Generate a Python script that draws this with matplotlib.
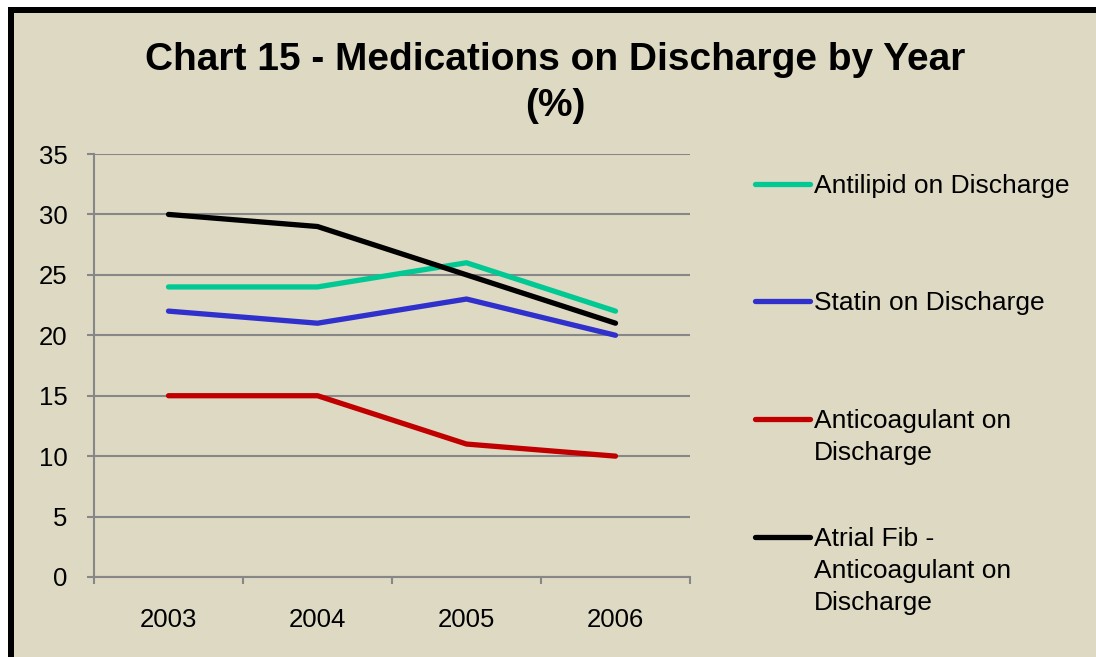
import matplotlib
matplotlib.use("Agg")
import matplotlib.pyplot as plt
from matplotlib.patches import Rectangle
from matplotlib.lines import Line2D

plt.rcParams['font.family'] = ['Liberation Sans', 'DejaVu Sans']

years = ["2003", "2004", "2005", "2006"]
series_names = ["Antilipid on Discharge", "Statin on Discharge",
                "Anticoagulant on\nDischarge", "Atrial Fib -\nAnticoagulant on\nDischarge"]
antilipid = [24, 24, 26, 22]
statin = [22, 21, 23, 20]
anticoagulant = [15, 15, 11, 10]
atrial_fib = [30, 29, 25, 21]
colors = ["#00C994", "#3030CC", "#C00000", "#000000"]
yticks = [0, 5, 10, 15, 20, 25, 30, 35]

W, H = 1096, 657
BG = "#DDD9C3"
GRID = "#878787"

fig = plt.figure(figsize=(W / 100, H / 100), dpi=100, facecolor="white")

# frame: black border on top/left, beige fill
fig.add_artist(Rectangle((8 / W, -0.1), 1.2, 1.1 - 7 / H, transform=fig.transFigure,
                         facecolor="black", edgecolor="none", zorder=0))
fig.add_artist(Rectangle((14 / W, -0.1), 1.2, 1.1 - 13 / H, transform=fig.transFigure,
                         facecolor=BG, edgecolor="none", zorder=0))

ax = fig.add_axes([94 / W, 1 - 577 / H, (690 - 94) / W, (577 - 154) / H])
ax.set_facecolor("none")

x = list(range(len(years)))
for vals, c in zip([antilipid, statin, anticoagulant, atrial_fib], colors):
    ax.plot(x, vals, color=c, lw=3.8, solid_capstyle="round", solid_joinstyle="round",
            zorder=3, clip_on=False)

ax.set_xlim(-0.5, len(years) - 0.5)
ax.set_ylim(0, 35)
ax.set_yticks(yticks)
ax.set_yticklabels([str(v) for v in yticks])
ax.set_xticks([i - 0.5 for i in range(len(years) + 1)])
ax.set_xticklabels([])
ax.set_xticks(x, minor=True)
ax.set_xticklabels(years, minor=True)
ax.tick_params(axis="x", which="major", length=5, width=1.5, color=GRID, direction="out")
ax.tick_params(axis="x", which="minor", length=0, pad=22, labelsize=18.5)
ax.tick_params(axis="y", length=5, width=1.5, color=GRID, direction="out", pad=14,
               labelsize=18.5)
ax.yaxis.grid(True, color=GRID, lw=1.5)
ax.set_axisbelow(True)
for s in ["top", "right"]:
    ax.spines[s].set_visible(False)
for s in ["left", "bottom"]:
    ax.spines[s].set_color(GRID)
    ax.spines[s].set_linewidth(1.5)

fig.text(555 / W, 1 - 60 / H, "Chart 15 - Medications on Discharge by Year",
         ha="center", va="center", fontsize=28, fontweight="bold")
fig.text(555 / W, 1 - 106 / H, "(%)", ha="center", va="center", fontsize=28,
         fontweight="bold")

# legend (manual, to match layout)
leg_y = [184, 301, 419, 537]
for name, c, yy in zip(series_names, colors, leg_y):
    fig.add_artist(Line2D([755 / W, 810 / W], [1 - yy / H, 1 - yy / H],
                          transform=fig.transFigure, color=c, lw=3.8,
                          solid_capstyle="round"))
    fig.text(814 / W, 1 - (yy - 10) / H, name, ha="left", va="top", fontsize=19,
             linespacing=1.42)

fig.savefig("out.png", dpi=100, facecolor=fig.get_facecolor())
